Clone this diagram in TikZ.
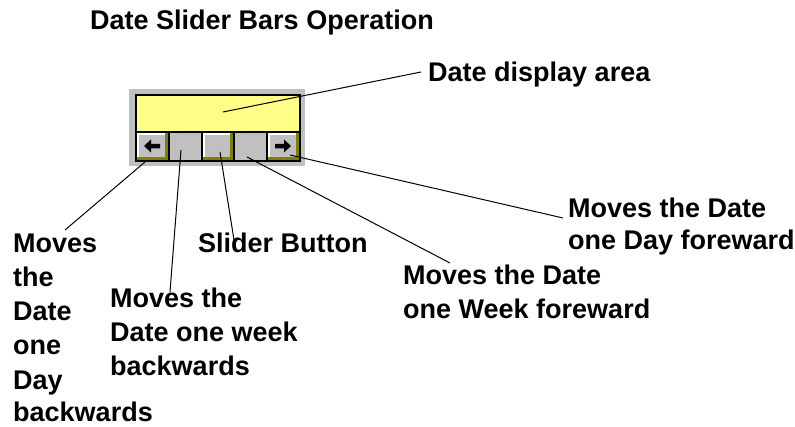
\documentclass[tikz,border=0pt]{standalone}
\usepackage{fontspec}
\setmainfont{Liberation Sans}
\definecolor{wingray}{RGB}{192,192,192}
\definecolor{winolive}{RGB}{128,128,0}
\definecolor{dispyellow}{RGB}{255,255,136}
% raised Windows-style button: olive shadow, white highlight, gray face
\newcommand\winbtn[4]{%
  \fill[winolive] (#1,#2) rectangle (#3,#4);
  \fill[white] (#1,#2) rectangle (#3-3,#4-3);
  \fill[wingray] (#1+2,#2+2) rectangle (#3-3,#4-3);
}
\tikzset{
  lbl/.style={anchor=base west, inner sep=0pt, font=\fontsize{27}{30}\bfseries\selectfont},
  conn/.style={draw=black, line width=1pt},
}
\begin{document}
\begin{tikzpicture}[x=1pt,y=-1pt]
\useasboundingbox (0,0) rectangle (795,427);

% title
\node[lbl] (title) at (90,30) {Date Slider Bars Operation};

% slider widget
\fill[wingray] (129,89) rectangle (305,166);
\fill[black] (135,94) rectangle (301,162);
\fill[dispyellow] (137,96) rectangle (299,131);
\winbtn{137}{133}{168}{160}
\fill[wingray] (170,133) rectangle (201,160);
\winbtn{203}{133}{233}{160}
\fill[wingray] (235,133) rectangle (266,160);
\winbtn{268}{133}{299}{160}
% arrow glyphs
\fill[black] (144,146) -- (151,139.5) -- (151,144) -- (160,144) -- (160,148.5) -- (151,148.5) -- (151,152.5) -- cycle;
\fill[black] (291,146) -- (284,139.5) -- (284,144) -- (275,144) -- (275,148.5) -- (284,148.5) -- (284,152.5) -- cycle;

% labels
\node[lbl] (disp) at (428,82) {Date display area};

\node[lbl] (dayfwd) at (568,218) {Moves the Date};
\node[lbl] (dayfwd2) at (568,250) {one Day foreward};

\node[lbl] (wkfwd) at (403,285) {Moves the Date};
\node[lbl] (wkfwd2) at (403,319) {one Week foreward};

\node[lbl] (slider) at (198,253) {Slider Button};

\node[lbl] (wkback) at (110,308) {Moves the};
\node[lbl] (wkback2) at (110,342) {Date one week};
\node[lbl] (wkback3) at (110,376) {backwards};

\node[lbl] (dayback) at (13,253) {Moves};
\node[lbl] (dayback2) at (13,287) {the};
\node[lbl] (dayback3) at (13,321) {Date};
\node[lbl] (dayback4) at (13,355) {one};
\node[lbl] (dayback5) at (13,389) {Day};
\node[lbl] (dayback6) at (13,421) {backwards};

% connector end points
\coordinate (pDisp) at (223,112);
\coordinate (eDisp) at (421,72);
\coordinate (pRight) at (290,155);
\coordinate (eRight) at (563,218);
\coordinate (pTr2) at (247,157);
\coordinate (eTr2) at (450,263);
\coordinate (pSl) at (220,152);
\coordinate (eSl) at (234,240);
\coordinate (pTr1) at (181,150);
\coordinate (eTr1) at (170,292);
\coordinate (pLeft) at (145,162);
\coordinate (eLeft) at (65,230);

\draw[conn] (pDisp) -- (eDisp);
\draw[conn] (pRight) -- (eRight);
\draw[conn] (pTr2) -- (eTr2);
\draw[conn] (pSl) -- (eSl);
\draw[conn] (pTr1) -- (eTr1);
\draw[conn] (pLeft) -- (eLeft);
\end{tikzpicture}
\end{document}
